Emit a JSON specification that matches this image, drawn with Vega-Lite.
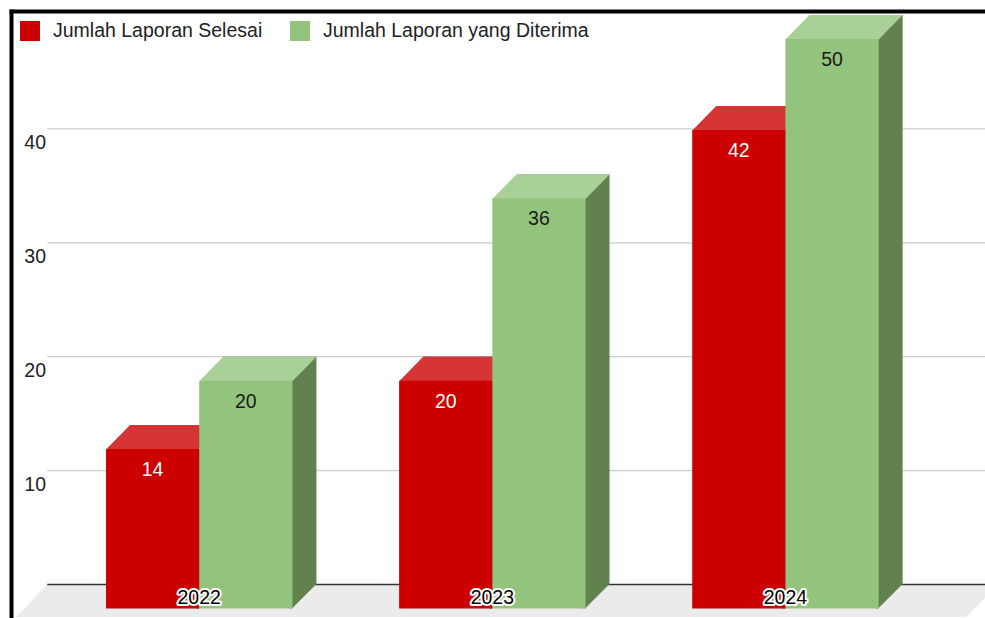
{
  "$schema": "https://vega.github.io/schema/vega-lite/v6.json",
  "width": 974,
  "height": 607,
  "padding": {"left": 11, "top": 11, "right": 0, "bottom": 0},
  "autosize": {"type": "none"},
  "background": "#ffffff",
  "datasets": {
    "bars": [
      {"year": "2022", "series": "Jumlah Laporan Selesai", "value": 14},
      {"year": "2022", "series": "Jumlah Laporan yang Diterima", "value": 20},
      {"year": "2023", "series": "Jumlah Laporan Selesai", "value": 20},
      {"year": "2023", "series": "Jumlah Laporan yang Diterima", "value": 36},
      {"year": "2024", "series": "Jumlah Laporan Selesai", "value": 42},
      {"year": "2024", "series": "Jumlah Laporan yang Diterima", "value": 50}
    ],
    "grid": [{"tick": 10}, {"tick": 20}, {"tick": 30}, {"tick": 40}]
  },
  "data": {"name": "bars"},
  "encoding": {
    "x": {
      "field": "year", "type": "nominal",
      "scale": {"paddingInner": 0.364, "paddingOuter": 0.3435, "align": 0.591},
      "axis": {"orient": "top", "title": null}
    },
    "y": {
      "field": "value", "type": "quantitative",
      "scale": {"domain": [-2.941, 50.351], "nice": false, "zero": false},
      "axis": {"title": null, "values": [10, 20, 30, 40]}
    }
  },
  "layer": [
    {
      "transform": [{"filter": "datum.year === '2022' && datum.series === 'Jumlah Laporan Selesai'"}],
      "mark": {"type": "point", "shape": "M-176,0L775,0L743,32.5L-207,32.5Z", "size": 4, "filled": true, "color": "#ebebeb", "opacity": 1, "strokeWidth": 0},
      "encoding": {"y": {"datum": 0, "type": "quantitative"}}
    },
    {
      "transform": [{"filter": "datum.year === '2022' && datum.series === 'Jumlah Laporan Selesai'"}],
      "mark": {"type": "point", "shape": "M-176,0L775,0", "size": 4, "filled": false, "color": "#333333", "strokeWidth": 1.5, "opacity": 1},
      "encoding": {"y": {"datum": 0, "type": "quantitative"}}
    },
    {
      "data": {"name": "grid"},
      "mark": {"type": "point", "shape": "M-176,0L775,0", "size": 4, "filled": false, "color": "#cccccc", "strokeWidth": 1.3, "opacity": 1},
      "encoding": {
        "x": {"datum": "2022", "type": "nominal", "axis": {"orient": "top", "title": null}},
        "y": {"field": "tick", "type": "quantitative", "axis": {"title": null, "values": [10, 20, 30, 40]}}
      }
    },
    {
      "mark": {"type": "bar"},
      "encoding": {
        "xOffset": {"field": "series", "type": "nominal", "scale": {"domain": ["Jumlah Laporan Selesai", "Jumlah Laporan yang Diterima"]}},
        "y2": {"datum": 0},
        "color": {"condition": {"test": "datum.series === 'Jumlah Laporan Selesai'", "value": "#8e0000"}, "value": "#61814f"}
      }
    },
    {
      "mark": {"type": "point", "shape": "M20,-0.5L46.6,-0.5L22.1,24L20,24Z", "size": 4, "filled": true, "opacity": 1, "strokeWidth": 0},
      "encoding": {
        "xOffset": {"field": "series", "type": "nominal"},
        "y": {"datum": 0, "type": "quantitative"},
        "color": {"condition": {"test": "datum.series === 'Jumlah Laporan Selesai'", "value": "#8e0000"}, "value": "#61814f"}
      }
    },
    {
      "mark": {"type": "point", "shape": "M-70.6,24.5L22.6,24.5L46.6,0L-46.6,0Z", "size": 4, "filled": true, "opacity": 1, "strokeWidth": 0},
      "encoding": {
        "xOffset": {"field": "series", "type": "nominal"},
        "color": {"condition": {"test": "datum.series === 'Jumlah Laporan Selesai'", "value": "#d63535"}, "value": "#a9d197"}
      }
    },
    {
      "transform": [{"filter": "datum.series === 'Jumlah Laporan Selesai'"}],
      "mark": {"type": "rect", "xOffset": -24, "x2Offset": -24, "yOffset": 24, "y2Offset": 24},
      "encoding": {
        "x": {"field": "year", "type": "nominal", "bandPosition": 0, "axis": {"orient": "top", "title": null}},
        "x2": {"field": "year", "bandPosition": 0.5},
        "y2": {"datum": 0},
        "color": {
          "field": "series", "type": "nominal",
          "scale": {"domain": ["Jumlah Laporan Selesai", "Jumlah Laporan yang Diterima"], "range": ["#cc0000", "#93c47d"]},
          "legend": {"title": null}
        }
      }
    },
    {
      "transform": [{"filter": "datum.series === 'Jumlah Laporan yang Diterima'"}],
      "mark": {"type": "rect", "xOffset": -24, "x2Offset": -24, "yOffset": 24, "y2Offset": 24},
      "encoding": {
        "x": {"field": "year", "type": "nominal", "bandPosition": 0.5, "axis": {"orient": "top", "title": null}},
        "x2": {"field": "year", "bandPosition": 1},
        "y2": {"datum": 0},
        "color": {
          "field": "series", "type": "nominal",
          "scale": {"domain": ["Jumlah Laporan Selesai", "Jumlah Laporan yang Diterima"], "range": ["#cc0000", "#93c47d"]},
          "legend": {"title": null}
        }
      }
    },
    {
      "mark": {"type": "text", "dx": -24, "dy": 45, "fontSize": 19.5, "font": "Liberation Sans", "baseline": "middle", "align": "center"},
      "encoding": {
        "xOffset": {"field": "series", "type": "nominal"},
        "text": {"field": "value", "type": "quantitative"},
        "color": {"condition": {"test": "datum.series === 'Jumlah Laporan Selesai'", "value": "#ffffff"}, "value": "#1a1a1a"}
      }
    },
    {
      "transform": [{"filter": "datum.series === 'Jumlah Laporan Selesai'"}],
      "mark": {"type": "text", "dx": -24, "dy": 13, "fontSize": 19.5, "font": "Liberation Sans", "baseline": "middle", "align": "center", "stroke": "#ffffff", "strokeWidth": 4, "strokeJoin": "round", "fill": "#ffffff"},
      "encoding": {
        "y": {"datum": 0, "type": "quantitative"},
        "text": {"field": "year", "type": "nominal"}
      }
    },
    {
      "transform": [{"filter": "datum.series === 'Jumlah Laporan Selesai'"}],
      "mark": {"type": "text", "dx": -24, "dy": 13, "fontSize": 19.5, "font": "Liberation Sans", "baseline": "middle", "align": "center", "fill": "#000000"},
      "encoding": {
        "y": {"datum": 0, "type": "quantitative"},
        "text": {"field": "year", "type": "nominal"}
      }
    }
  ],
  "config": {
    "font": "Liberation Sans",
    "view": {"stroke": null},
    "axisX": {"domain": true, "domainColor": "#000000", "domainWidth": 4, "domainCap": "square", "labels": false, "ticks": false, "grid": false},
    "axisY": {"domain": true, "domainColor": "#000000", "domainWidth": 4, "domainCap": "square", "ticks": false, "tickSize": 0, "grid": false, "labelPadding": -34.5, "labelAlign": "right", "labelOffset": 13.4, "labelFont": "Liberation Sans", "labelFontSize": 19.5, "labelColor": "#222222"},
    "legend": {"orient": "none", "legendX": 9, "legendY": 10, "direction": "horizontal", "symbolType": "square", "symbolSize": 400, "symbolStrokeWidth": 0, "labelFont": "Liberation Sans", "labelFontSize": 19.5, "labelColor": "#222222", "labelOffset": 13, "labelLimit": 0, "columnPadding": 27, "padding": 0}
  }
}
